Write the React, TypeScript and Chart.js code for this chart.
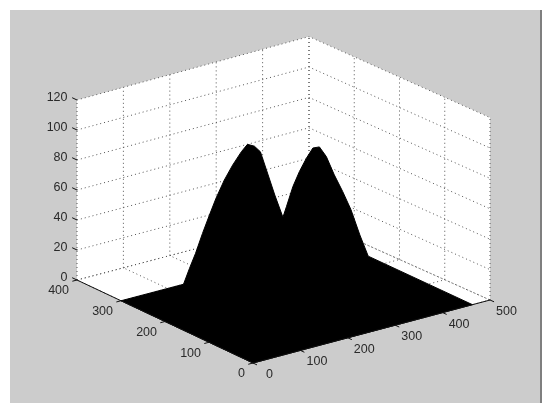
import React, { useEffect, useRef } from "react";
import { Chart, registerables } from "chart.js";

Chart.register(...registerables);

const xTicks = [0, 100, 200, 300, 400, 500];
const yTicks = [0, 100, 200, 300, 400];
const zTicks = [0, 20, 40, 60, 80, 100, 120];

// Outline of the surface (data units)
const ridgeX = [134, 145, 156, 168, 181, 193, 208, 223, 239, 250, 262, 273, 284, 299, 314, 320, 332, 344, 356, 368, 380, 392, 407, 422, 437, 453, 468];
const ridgeY = [300, 298, 296, 293, 291, 289, 286, 283, 280, 278, 275, 273, 271, 268, 265.5, 264, 262, 260, 257, 255, 253, 250, 248, 245, 242, 239, 236];
const ridgeZ = [0, 10, 19.3, 31.9, 43.3, 53.6, 64.9, 74, 82, 86.2, 84.4, 80, 67.4, 49.9, 34.3, 41, 53.6, 62.8, 71, 77, 77, 70, 57, 45.2, 32.3, 14.8, 0];
const floorX = [463, 0, 0];
const floorY = [0, 0, 300];

const X_MAX = 500;
const Y_MAX = 400;
const Z_MAX = 120;

const project = (x: number, y: number, z: number) => ({
  x: 253 + 0.474 * x - 0.44 * y - 0.000025 * x * y,
  y: 363 - 0.126 * x - 0.2075 * y + 0.00001 * x * y - (1.5 + 0.00004 * x) * z,
});

type P = [number, number, number];
const path = (pts: P[]) => pts.map((p) => project(p[0], p[1], p[2]));

const base = { showLine: true, pointRadius: 0, tension: 0, fill: false };
const dotted = (pts: P[]) => ({
  ...base,
  data: path(pts),
  borderColor: "#555555",
  borderWidth: 1,
  borderDash: [1, 3],
  order: 3,
});
const solid = (pts: P[]) => ({
  ...base,
  data: path(pts),
  borderColor: "#111111",
  borderWidth: 1,
  order: 1,
});

const buildDatasets = () => {
  const sets: any[] = [];
  // white walls and floor
  sets.push({
    ...base,
    data: path([
      [0, Y_MAX, Z_MAX],
      [X_MAX, Y_MAX, Z_MAX],
      [X_MAX, 0, Z_MAX],
      [X_MAX, 0, 0],
      [0, 0, 0],
      [0, Y_MAX, 0],
    ]),
    borderWidth: 0,
    backgroundColor: "#ffffff",
    fill: "shape",
    order: 4,
  });
  for (const z of zTicks) {
    sets.push(dotted([[0, Y_MAX, z], [X_MAX, Y_MAX, z], [X_MAX, 0, z]]));
  }
  for (const x of xTicks) {
    sets.push(dotted([[x, Y_MAX, 0], [x, Y_MAX, Z_MAX]]));
    sets.push(dotted([[x, 0, 0], [x, Y_MAX, 0]]));
  }
  for (const y of yTicks) {
    sets.push(dotted([[X_MAX, y, 0], [X_MAX, y, Z_MAX]]));
    sets.push(dotted([[0, y, 0], [X_MAX, y, 0]]));
  }
  // surface
  const outline: P[] = [
    ...floorX.map((x, i): P => [x, floorY[i], 0]),
    ...ridgeX.map((x, i): P => [x, ridgeY[i], ridgeZ[i]]),
    [floorX[0], floorY[0], 0],
  ];
  sets.push({
    ...base,
    data: path(outline),
    borderColor: "#000000",
    borderWidth: 1,
    backgroundColor: "#000000",
    fill: "shape",
    order: 2,
  });
  // axes and tick marks
  sets.push(solid([[0, Y_MAX, 0], [0, 0, 0], [X_MAX, 0, 0]]));
  for (const x of xTicks) sets.push(solid([[x, 0, 0], [x, -9, 0]]));
  for (const y of yTicks) sets.push(solid([[0, y, 0], [-10, y, 0]]));
  for (const z of zTicks) sets.push(solid([[0, Y_MAX, z], [0, Y_MAX + 11, z]]));
  return sets;
};

const panelPlugin = {
  id: "panel",
  beforeDraw(chart: any) {
    const { ctx } = chart;
    ctx.save();
    ctx.fillStyle = "#ffffff";
    ctx.fillRect(0, 0, 550, 412);
    ctx.fillStyle = "#cccccc";
    ctx.fillRect(10, 10, 531, 393);
    ctx.fillStyle = "#7f7f7f";
    ctx.fillRect(540, 10, 2, 393);
    ctx.restore();
  },
};

const labelPlugin = {
  id: "tickLabels",
  afterDraw(chart: any) {
    const { ctx } = chart;
    const sx = chart.scales.x;
    const sy = chart.scales.y;
    const put = (text: string, p: { x: number; y: number }, dx: number, dy: number, align: CanvasTextAlign) => {
      ctx.textAlign = align;
      ctx.fillText(text, sx.getPixelForValue(p.x) + dx, sy.getPixelForValue(p.y) + dy);
    };
    ctx.save();
    ctx.font = '12.5px "Liberation Sans", Arial, sans-serif';
    ctx.fillStyle = "#2a2a2a";
    ctx.textBaseline = "middle";
    for (const z of zTicks) put(String(z), project(0, Y_MAX, z), -9.5, -2, "right");
    for (const y of yTicks) put(String(y), project(0, y, 0), -8, 11, "right");
    for (const x of xTicks) put(String(x), project(x, 0, 0), 16.5, 11.5, "center");
    ctx.restore();
  },
};

export default function App() {
  const ref = useRef<HTMLCanvasElement>(null);
  useEffect(() => {
    const chart = new Chart(ref.current as HTMLCanvasElement, {
      type: "scatter",
      data: { datasets: buildDatasets() },
      options: {
        animation: false,
        responsive: false,
        layout: { padding: 0 },
        plugins: { legend: { display: false }, tooltip: { enabled: false } },
        scales: {
          x: { type: "linear", min: 0, max: 550, display: false },
          y: { type: "linear", min: 0, max: 412, reverse: true, display: false },
        },
      },
      plugins: [panelPlugin, labelPlugin],
    } as any);
    return () => chart.destroy();
  }, []);
  return (
    <div style={{ position: "absolute", left: 0, top: 0, width: 550, height: 412 }}>
      <canvas ref={ref} width={550} height={412} style={{ display: "block" }} />
    </div>
  );
}
